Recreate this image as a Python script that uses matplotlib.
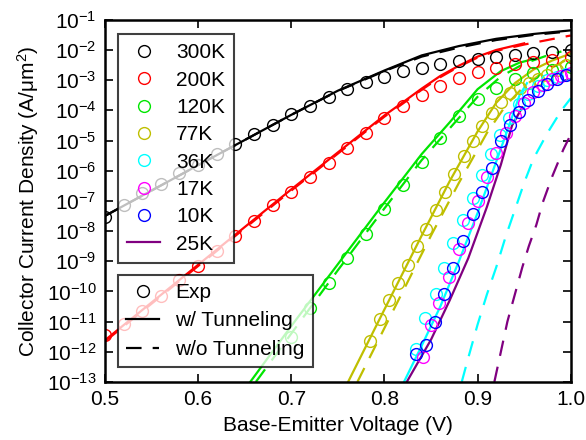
import numpy as np
import matplotlib
matplotlib.use("Agg")
import matplotlib.pyplot as plt
from matplotlib.lines import Line2D
from matplotlib.ticker import NullLocator

plt.rcParams['font.family'] = ['Liberation Sans', 'DejaVu Sans']
plt.rcParams['font.size'] = 15
plt.rcParams['mathtext.fontset'] = 'custom'
plt.rcParams['mathtext.rm'] = 'Liberation Sans'
plt.rcParams['mathtext.it'] = 'Liberation Sans'
plt.rcParams['mathtext.default'] = 'regular'

# experimental data (log10 of current density)
v300 = np.arange(0.50, 1.001, 0.02)
e300 = [-7.52, -7.13, -6.73, -6.43, -6.07, -5.80, -5.44, -5.11, -4.77, -4.48, -4.13,
        -3.85, -3.56, -3.30, -3.05, -2.88, -2.71, -2.59, -2.46, -2.38, -2.29, -2.24,
        -2.17, -2.09, -2.06, -1.99]
v200 = np.arange(0.50, 1.001, 0.02)
e200 = [-11.43, -11.07, -10.64, -10.14, -9.61, -9.15, -8.65, -8.15, -7.66, -7.13, -6.70,
        -6.20, -5.73, -5.24, -4.74, -4.25, -3.85, -3.48, -3.19, -2.93, -2.73, -2.60,
        -2.46, -2.40, -2.32, -2.22]
v120 = np.arange(0.70, 1.001, 0.02)
e120 = [-11.50, -10.54, -9.71, -8.88, -8.09, -7.26, -6.46, -5.70, -4.91, -4.18, -3.62,
        -3.25, -2.95, -2.75, -2.66, -2.58]
v77 = [0.785, 0.795, 0.805, 0.815, 0.825, 0.835, 0.845, 0.855, 0.865, 0.875, 0.885,
       0.895, 0.905, 0.915, 0.925, 0.935, 0.945, 0.955, 0.965, 0.975, 0.985, 0.995]
e77 = [-11.66, -10.93, -10.27, -9.71, -9.11, -8.48, -7.92, -7.29, -6.70, -6.10, -5.50,
       -5.00, -4.51, -4.08, -3.71, -3.42, -3.25, -3.09, -2.95, -2.82, -2.66, -2.49]
v36 = [0.834, 0.844, 0.855, 0.864, 0.874, 0.884, 0.895, 0.905, 0.914, 0.924, 0.934,
       0.944, 0.954, 0.965, 0.975, 0.985, 0.995]
e36 = [-11.90, -10.87, -10.07, -9.24, -8.38, -7.62, -6.89, -6.13, -5.44, -4.81, -4.25,
       -3.80, -3.45, -3.20, -3.00, -2.88, -2.78]
v17 = [0.841, 0.850, 0.859, 0.869, 0.880, 0.890, 0.900, 0.910, 0.920, 0.930, 0.940,
       0.950, 0.960, 0.970, 0.980, 0.990, 1.000]
e17 = [-12.16, -11.13, -10.40, -9.51, -8.58, -7.72, -7.00, -6.20, -5.40, -4.75, -4.20,
       -3.75, -3.40, -3.15, -2.97, -2.85, -2.75]
v10 = [0.834, 0.845, 0.854, 0.864, 0.874, 0.884, 0.895, 0.905, 0.915, 0.925, 0.935,
       0.944, 0.954, 0.965, 0.974, 0.985, 0.995]
e10 = [-12.09, -11.76, -11.00, -10.10, -9.21, -8.32, -7.42, -6.70, -5.90, -5.00, -4.50,
       -4.05, -3.65, -3.35, -3.12, -2.95, -2.82]

# simulation, with tunneling (solid)
sv300 = [0.50, 0.60, 0.70, 0.75, 0.80, 0.84, 0.88, 0.92, 0.96, 1.00]
s300 = [-7.50, -5.82, -4.15, -3.35, -2.68, -2.18, -1.87, -1.63, -1.47, -1.35]
sv200 = [0.50, 0.60, 0.70, 0.76, 0.80, 0.82, 0.84, 0.86, 0.88, 0.90, 0.92, 0.95]
s200 = [-11.62, -9.12, -6.62, -5.15, -4.17, -3.73, -3.28, -2.86, -2.52, -2.22, -2.00, -1.78]
sv120 = [0.656, 0.70, 0.75, 0.80, 0.84, 0.87, 0.90, 0.925, 0.945, 0.96]
s120 = [-13.0, -11.15, -9.10, -7.05, -5.45, -4.40, -3.30, -2.70, -2.42, -2.30]
sv77 = [0.761, 0.80, 0.84, 0.87, 0.90, 0.92, 0.94, 0.96, 0.98, 1.00]
s77 = [-13.0, -10.6, -8.15, -6.35, -4.70, -3.75, -3.10, -2.65, -2.35, -2.12]
sv36 = [0.821, 0.84, 0.86, 0.88, 0.90, 0.92, 0.935, 0.945, 0.953]
s36 = [-13.0, -11.8, -10.5, -9.0, -7.4, -5.7, -4.4, -3.5, -3.1]
sv25 = [0.824, 0.85, 0.87, 0.89, 0.91, 0.925, 0.937, 0.948]
s25 = [-13.0, -11.6, -10.3, -8.9, -7.2, -5.8, -4.5, -3.9]

# simulation, without tunneling (dashed)
dv300 = [0.50, 0.60, 0.70, 0.75, 0.80, 0.84, 0.88, 0.92, 0.96, 1.00]
d300 = [-7.50, -5.82, -4.15, -3.36, -2.70, -2.22, -1.92, -1.67, -1.50, -1.38]
dv200 = [0.50, 0.60, 0.70, 0.76, 0.80, 0.82, 0.84, 0.86, 0.88, 0.90, 0.92, 0.95, 0.97, 1.00]
d200 = [-11.66, -9.16, -6.66, -5.19, -4.21, -3.77, -3.32, -2.90, -2.55, -2.25, -2.03,
        -1.82, -1.70, -1.52]
dv120 = [0.662, 0.70, 0.75, 0.80, 0.84, 0.87, 0.90, 0.925, 0.95, 0.975, 0.99]
d120 = [-13.0, -11.4, -9.3, -7.25, -5.65, -4.60, -3.55, -2.88, -2.45, -2.18, -2.05]
dv77 = [0.771, 0.81, 0.85, 0.88, 0.91, 0.93, 0.95, 0.97, 1.00]
d77 = [-13.0, -10.6, -8.15, -6.40, -4.75, -3.85, -3.20, -2.75, -2.25]
dv36 = [0.883, 0.89, 0.90, 0.91, 0.92, 0.93, 0.94, 0.95, 0.96, 0.975, 0.99, 1.00]
d36 = [-13.0, -12.2, -11.1, -10.1, -9.2, -8.2, -7.3, -6.4, -5.6, -4.75, -4.0, -3.6]
dv25 = [0.918, 0.925, 0.932, 0.940, 0.948, 0.955, 0.963, 0.970, 0.980, 0.992, 1.00]
d25 = [-13.0, -12.0, -11.0, -10.1, -9.2, -8.5, -7.8, -7.05, -6.2, -5.3, -4.8]

c300, c200, c120, c77 = 'black', '#ff0000', '#00e600', '#bfbf00'
c36, c17, c10, c25 = '#00ffff', '#ff00ff', '#0000ff', '#800080'

fig = plt.figure(figsize=(5.86, 4.40), dpi=100)
ax = fig.add_axes([0.179, 0.132, 0.795, 0.823])

lw = 1.6
dash = (0, (7, 5))
for xs, ys, c in [(sv300, s300, c300), (sv200, s200, c200), (sv120, s120, c120),
                  (sv77, s77, c77), (sv36, s36, c36), (sv25, s25, c25)]:
    ax.plot(xs, 10.0 ** np.array(ys), color=c, lw=lw)
for xs, ys, c in [(dv300, d300, c300), (dv200, d200, c200), (dv120, d120, c120),
                  (dv77, d77, c77), (dv36, d36, c36), (dv25, d25, c25)]:
    ax.plot(xs, 10.0 ** np.array(ys), color=c, lw=lw, linestyle=dash)

ms = 8.5
exp_sets = [(v300, e300, c300, '300K'), (v200, e200, c200, '200K'),
            (v120, e120, c120, '120K'), (v77, e77, c77, '77K'),
            (v36, e36, c36, '36K'), (v17, e17, c17, '17K'), (v10, e10, c10, '10K')]
for xs, ys, c, lab in exp_sets:
    ax.plot(xs, 10.0 ** np.array(ys), 'o', mfc='none', mec=c, ms=ms, mew=1.0)

ax.set_yscale('log')
ax.set_xlim(0.5, 1.0)
ax.set_ylim(1e-13, 1e-1)
ax.set_yticks([10.0 ** e for e in range(-13, 0)])
ax.yaxis.set_minor_locator(NullLocator())
ax.set_xticks([0.5, 0.6, 0.7, 0.8, 0.9, 1.0])
ax.set_xticklabels(['0.5', '0.6', '0.7', '0.8', '0.9', '1.0'])
ax.tick_params(direction='in', top=True, right=True, length=6, width=1.2, pad=6)
for s in ax.spines.values():
    s.set_linewidth(1.8)
ax.set_xlabel('Base-Emitter Voltage (V)', labelpad=5)
ax.set_ylabel('Collector Current Density (A/μm$^2$)', labelpad=4)

h1 = [Line2D([], [], marker='o', ls='none', mfc='none', mec=c, ms=ms, mew=1.0)
      for _, _, c, _ in exp_sets]
h1.append(Line2D([], [], color=c25, lw=lw))
l1 = ax.legend(h1, [e[3] for e in exp_sets] + ['25K'], loc='upper left',
               bbox_to_anchor=(0.005, 0.99), fancybox=False, framealpha=0.75,
               edgecolor='black', handlelength=1.6, labelspacing=0.4,
               borderpad=0.45, handletextpad=0.75)
l1.get_frame().set_linewidth(1.5)
ax.add_artist(l1)

h2 = [Line2D([], [], marker='o', ls='none', mfc='none', mec='black', ms=ms, mew=1.0),
      Line2D([], [], color='black', lw=lw),
      Line2D([], [], color='black', lw=lw, linestyle=dash)]
l2 = ax.legend(h2, ['Exp', 'w/ Tunneling', 'w/o Tunneling'], loc='lower left',
               bbox_to_anchor=(0.005, 0.012), fancybox=False, framealpha=0.75,
               edgecolor='black', handlelength=1.6, labelspacing=0.45,
               borderpad=0.4, handletextpad=0.75)
l2.get_frame().set_linewidth(1.5)

fig.savefig('out.png', dpi=100)
